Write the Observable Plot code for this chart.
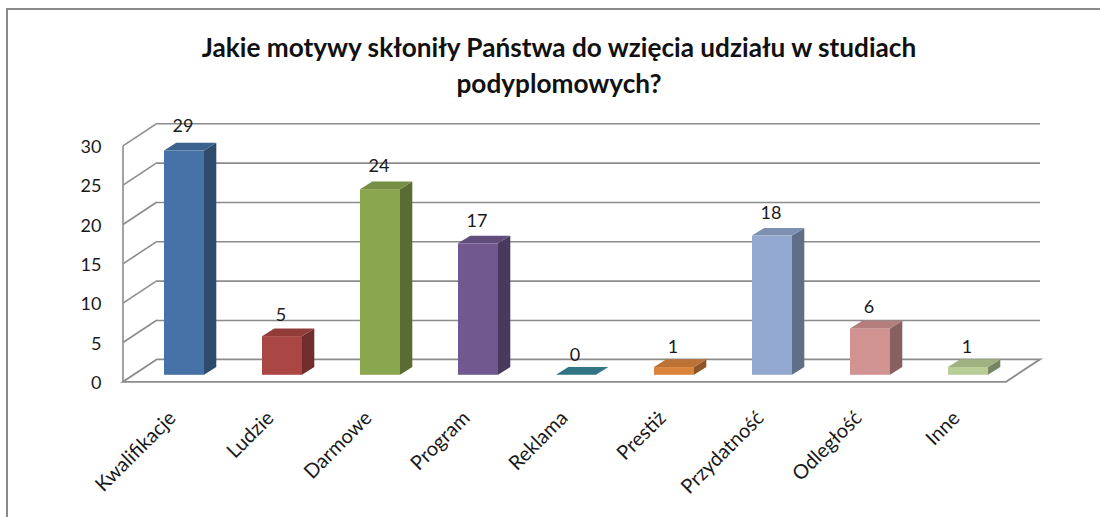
<!DOCTYPE html>
<html><head><meta charset="utf-8">
<script src="https://cdn.jsdelivr.net/npm/d3@7"></script>
<script src="https://cdn.jsdelivr.net/npm/@observablehq/plot@0.6"></script>
<style>
html,body{margin:0;padding:0;background:#fff;}
#wrap{position:relative;width:1100px;height:517px;overflow:hidden;font-family:Lato,"Open Sans",sans-serif;}
#frame{position:absolute;left:6px;top:8px;width:1300px;height:700px;border:2px solid #8a8a8a;box-sizing:border-box;}
#title{position:relative;height:100px;box-sizing:border-box;padding-top:29px;padding-left:18px;text-align:center;font-weight:bold;font-size:26.2px;line-height:36px;color:#111;white-space:nowrap;}
#chart{position:relative;}
</style></head><body>
<div id="wrap"><div id="frame"></div>
<div id="title">Jakie motywy skłoniły Państwa do wzięcia udziału w studiach<br>podyplomowych?</div>
<div id="chart"></div></div>
<script>
const categories = ["Kwalifikacje","Ludzie","Darmowe","Program","Reklama","Prestiż","Przydatność","Odległość","Inne"];
const values = [29, 5, 24, 17, 0, 1, 18, 6, 1];
const colors = ["#4672A8","#AA4643","#8AA64F","#71588F","#4198AF","#DB843D","#93A9CF","#D19392","#B9CD96"];
const yTicks = [0, 5, 10, 15, 20, 25, 30];

const data = categories.map((c, i) => ({cat: c, val: values[i], color: colors[i]}));

const GRID = "#8c8c8c";
const DEPTH_X = -34, DEPTH_Y = 22.5;   // back wall -> front edge offset
const BAR_X = -23, BAR_Y = 15.5;       // back wall -> bar front face offset
const BAR_HALF = 20, SIDE_X = 12.3, SIDE_Y = -7.7;

function shade(c, k) {
  const r = d3.rgb(c);
  return d3.rgb(r.r * k, r.g * k, r.b * k).formatHex();
}

function scene(index, scales, vals, dims) {
  const x = scales.x, y = scales.y;
  const bw = x.bandwidth ? x.bandwidth() : 0;
  const [x0, x1] = x.range();
  const g = d3.create("svg:g");
  // left wall
  const wall = g.append("g").attr("stroke", GRID).attr("stroke-width", 1.6).attr("fill", "none");
  wall.append("line")
    .attr("x1", x0 + DEPTH_X).attr("x2", x0 + DEPTH_X)
    .attr("y1", y(d3.max(yTicks)) + DEPTH_Y).attr("y2", y(0) + DEPTH_Y);
  for (const t of yTicks) {
    wall.append("line")
      .attr("x1", x0).attr("y1", y(t))
      .attr("x2", x0 + DEPTH_X).attr("y2", y(t) + DEPTH_Y);
  }
  // floor
  const y0 = y(0);
  g.append("path")
    .attr("d", `M${x0 + DEPTH_X},${y0 + DEPTH_Y}L${x0},${y0}L${x1},${y0}L${x1 + DEPTH_X},${y0 + DEPTH_Y}Z`)
    .attr("fill", "#fff").attr("stroke", GRID).attr("stroke-width", 1.8);
  // bars
  const k = 0.983;
  for (const d of data) {
    const cx = x(d.cat) + bw / 2 + BAR_X;
    const yb = y0 + BAR_Y;
    const h = (y0 - y(d.val)) * k;
    const yt = yb - h;
    const l = cx - BAR_HALF, r = cx + BAR_HALF;
    if (h > 0) {
      g.append("rect").attr("x", l).attr("y", yt).attr("width", r - l).attr("height", h).attr("fill", d.color);
      g.append("path")
        .attr("d", `M${r},${yb}L${r + SIDE_X},${yb + SIDE_Y}L${r + SIDE_X},${yt + SIDE_Y}L${r},${yt}Z`)
        .attr("fill", shade(d.color, 0.65));
    }
    g.append("path")
      .attr("d", `M${l},${yt}L${r},${yt}L${r + SIDE_X},${yt + SIDE_Y}L${l + SIDE_X},${yt + SIDE_Y}Z`)
      .attr("fill", shade(d.color, h > 0 ? 0.86 : 0.76));
  }
  return g.node();
}

const chart = Plot.plot({
  width: 1100,
  height: 417,
  marginLeft: 157,
  marginRight: 60,
  marginTop: 23.3,
  marginBottom: 157.7,
  style: {fontFamily: "Lato, 'Open Sans', sans-serif", fontSize: "18px", color: "#1a1a1a", background: "transparent", overflow: "visible"},
  x: {type: "band", domain: categories, padding: 0, axis: null},
  y: {domain: [0, 30], axis: null},
  marks: [
    Plot.ruleY(yTicks, {stroke: GRID, strokeWidth: 1.6}),
    scene,
    Plot.text(data, {x: "cat", y: "val", text: d => String(d.val), dx: -24.5, dy: -5, fontSize: 18, fill: "#1a1a1a"}),
    Plot.text(yTicks, {y: d => d, text: d => String(d), frameAnchor: "left", textAnchor: "end", dx: -56, dy: 23.5, fontSize: 18, fill: "#1a1a1a"}),
    Plot.text(data, {x: "cat", y: d => 0, text: "cat", rotate: -45, textAnchor: "end", dx: -35, dy: 55, fontSize: 20, fill: "#1a1a1a"})
  ]
});
document.getElementById("chart").appendChild(chart);
</script>
</body></html>
